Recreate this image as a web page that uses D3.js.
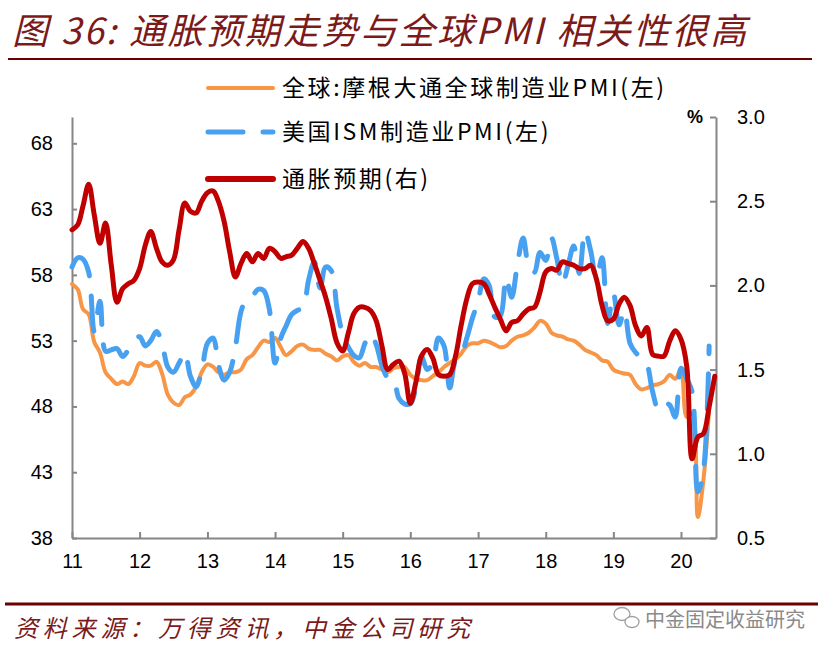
<!DOCTYPE html>
<html><head><meta charset="utf-8">
<script src="https://cdn.jsdelivr.net/npm/d3@7"></script>
<style>
body{margin:0;background:#fff;}
svg{display:block;}
</style></head>
<body>
<svg id="c" width="828" height="655"></svg>
<script>
// ---------- data ----------
const startMonth = new Date(2011, 0, 1);
const xTickLabels = ["11","12","13","14","15","16","17","18","19","20"];
const leftTicks = [38, 43, 48, 53, 58, 63, 68];
const rightTicks = [0.5, 1.0, 1.5, 2.0, 2.5, 3.0];
const seriesNames = ["全球:摩根大通全球制造业PMI(左)", "美国ISM制造业PMI(左)", "通胀预期(右)"];

// JPM global manufacturing PMI, monthly from Jan 2011
const globalPMI = [
  57.3,56.9,55.4,55.0,52.9,52.1,50.6,50.1,49.7,49.9,49.7,50.3,
  51.3,51.1,51.1,51.4,50.5,48.9,48.3,48.1,48.7,48.9,49.5,50.6,
  51.2,51.0,50.6,50.4,50.6,50.6,50.8,51.6,51.9,52.5,53.0,52.9,
  53.2,52.5,51.9,52.2,52.6,52.7,52.4,52.3,52.3,52.0,51.8,51.5,
  51.8,51.9,51.4,51.1,51.3,51.0,51.0,50.8,50.6,50.9,51.0,51.0,
  50.4,50.1,50.0,50.0,50.3,50.6,51.0,51.3,51.6,52.0,52.6,52.8,
  52.8,53.0,52.9,52.7,52.5,52.6,53.0,53.3,53.4,53.6,54.0,54.5,
  54.3,53.6,53.4,53.3,53.1,53.0,52.7,52.3,52.1,51.9,51.5,51.4,
  50.8,50.6,50.5,50.4,49.7,49.3,49.4,49.6,49.7,49.9,50.4,50.1,
  50.8,47.2,47.5,39.6,42.4,47.9
];
// US ISM manufacturing PMI, monthly from Jan 2011
const ismPMI = [
  58.6,59.3,59.2,58.2,53.7,56.0,52.2,52.3,52.4,51.8,52.3,53.0,
  53.3,52.6,53.0,53.7,52.8,51.0,50.6,51.3,52.1,50.3,49.5,50.7,
  52.8,53.2,51.2,50.0,50.6,52.5,55.2,56.2,56.4,56.9,56.8,55.4,
  51.3,53.2,54.1,55.0,55.3,55.5,57.6,59.0,57.0,58.6,58.3,55.5,
  53.5,52.5,51.9,51.7,52.8,53.5,52.7,51.1,50.2,50.1,48.6,48.2,
  48.2,49.5,51.8,50.8,51.3,53.2,52.6,49.4,51.5,51.9,53.2,54.7,
  56.0,57.7,57.2,54.8,54.9,57.8,56.3,58.8,60.8,58.7,58.2,59.7,
  59.1,60.8,59.3,57.3,58.7,60.2,58.1,61.3,59.8,57.7,59.3,54.3,
  56.6,54.2,55.3,52.8,52.1,51.7,51.2,49.1,47.8,48.3,48.1,47.2,
  50.9,50.1,49.1,41.5,43.1,52.6
];
// inflation expectation (%), monthly from Jan 2011
const inflExp = [
  2.33,2.36,2.47,2.60,2.42,2.25,2.37,2.12,1.90,1.98,2.01,2.03,
  2.10,2.24,2.32,2.22,2.14,2.12,2.15,2.33,2.49,2.44,2.43,2.50,
  2.55,2.56,2.50,2.38,2.20,2.05,2.13,2.19,2.14,2.19,2.16,2.22,
  2.20,2.16,2.17,2.18,2.22,2.26,2.22,2.13,2.03,1.93,1.80,1.66,
  1.61,1.72,1.83,1.87,1.87,1.85,1.79,1.64,1.50,1.53,1.55,1.48,
  1.30,1.43,1.58,1.62,1.57,1.47,1.46,1.47,1.58,1.76,1.92,2.01,
  2.02,2.01,1.95,1.87,1.80,1.73,1.78,1.79,1.83,1.86,1.87,1.96,
  2.08,2.10,2.09,2.14,2.13,2.12,2.10,2.10,2.12,2.04,1.88,1.79,
  1.80,1.89,1.93,1.88,1.76,1.70,1.75,1.59,1.58,1.58,1.67,1.73,
  1.68,1.52,0.97,1.10,1.12,1.28,1.46
];

// ---------- chart ----------
const svg = d3.select("#c");
const cjk = "'Noto Sans CJK SC','Noto Sans',sans-serif";
const lat = "'Liberation Sans',Arial,sans-serif";
const colors = ["#f79646", "#47a1f0", "#c00000"];

const monthDate = i => d3.timeMonth.offset(startMonth, i);
const x = d3.scaleTime().domain([startMonth, new Date(2020, 6, 8)]).range([72, 716]);
const yL = d3.scaleLinear().domain([38, 70]).range([538, 117]);
const yR = d3.scaleLinear().domain([0.5, 3.0]).range([538, 117]);

// title
svg.append("text").attr("x", 12).attr("y", 44)
  .attr("font-family", cjk).attr("font-size", 36).attr("font-style", "italic")
  .attr("letter-spacing", 2.5).attr("fill", "#7b1a1a")
  .text("图 36: 通胀预期走势与全球PMI 相关性很高");
svg.append("line").attr("x1", 8).attr("x2", 812).attr("y1", 59).attr("y2", 59)
  .attr("stroke", "#6b0000").attr("stroke-width", 2);

// axes
const axisStyle = g => {
  g.select(".domain").attr("stroke", "#868686").attr("stroke-width", 2);
  g.selectAll(".tick line").attr("stroke", "#868686").attr("stroke-width", 2);
  g.selectAll(".tick text").attr("font-family", lat).attr("font-size", 20).attr("fill", "#000");
};
svg.append("g").attr("transform", "translate(72,0)")
  .call(d3.axisLeft(yL).tickValues(leftTicks).tickSize(-5).tickSizeOuter(0).tickPadding(19))
  .call(axisStyle);
svg.append("g").attr("transform", "translate(716,0)")
  .call(d3.axisRight(yR).tickValues(rightTicks).tickFormat(d3.format(".1f")).tickSize(-6).tickSizeOuter(0).tickPadding(21))
  .call(axisStyle);
const yearDates = xTickLabels.map((_, i) => new Date(2011 + i, 0, 1));
svg.append("g").attr("transform", "translate(0,538)")
  .call(d3.axisBottom(x).tickValues(yearDates).tickFormat((d, i) => xTickLabels[i]).tickSize(-6).tickSizeOuter(0).tickPadding(16))
  .call(axisStyle);

svg.append("text").attr("x", 695).attr("y", 117).attr("dy", "0.35em")
  .attr("text-anchor", "middle").attr("font-family", lat).attr("font-size", 18).attr("font-weight", "bold")
  .text("%");

// lines
const curve = d3.curveCatmullRom.alpha(0.5);
const lineL = d3.line().x((d, i) => x(monthDate(i))).y(d => yL(d)).curve(curve);
const lineR = d3.line().x((d, i) => x(monthDate(i))).y(d => yR(d)).curve(curve);

svg.append("path").attr("d", lineL(globalPMI)).attr("fill", "none")
  .attr("stroke", colors[0]).attr("stroke-width", 4).attr("stroke-linejoin", "round").attr("stroke-linecap", "round");
svg.append("path").attr("d", lineL(ismPMI)).attr("fill", "none")
  .attr("stroke", colors[1]).attr("stroke-width", 5).attr("stroke-dasharray", "35,20")
  .attr("stroke-linejoin", "round").attr("stroke-linecap", "round");
svg.append("path").attr("d", lineR(inflExp)).attr("fill", "none")
  .attr("stroke", colors[2]).attr("stroke-width", 5).attr("stroke-linejoin", "round").attr("stroke-linecap", "round");

// legend
const legY = [88, 132, 179];
seriesNames.forEach((name, i) => {
  const l = svg.append("line").attr("x1", 208).attr("x2", 273).attr("y1", legY[i]).attr("y2", legY[i])
    .attr("stroke", colors[i]).attr("stroke-width", i === 0 ? 4 : (i === 2 ? 6 : 5)).attr("stroke-linecap", "round");
  if (i === 1) l.attr("stroke-dasharray", "35,20");
  svg.append("text").attr("x", 282).attr("y", legY[i]).attr("dy", "0.36em")
    .attr("font-family", cjk).attr("font-size", 23).attr("letter-spacing", 2.6).attr("fill", "#000")
    .text(name);
});

// footer
svg.append("line").attr("x1", 5).attr("x2", 818).attr("y1", 604).attr("y2", 604)
  .attr("stroke", "#6b0000").attr("stroke-width", 3);
svg.append("text").attr("x", 14).attr("y", 637)
  .attr("font-family", cjk).attr("font-size", 24).attr("font-style", "italic").attr("fill", "#7b1a1a")
  .attr("textLength", 456).attr("lengthAdjust", "spacing")
  .text("资料来源：万得资讯，中金公司研究");

// watermark
const wm = svg.append("g").attr("fill", "none").attr("stroke", "#a0a0a0").attr("stroke-width", 1.3);
wm.append("ellipse").attr("cx", 622).attr("cy", 614).attr("rx", 8).attr("ry", 6.5);
wm.append("ellipse").attr("cx", 632).attr("cy", 622).attr("rx", 7).attr("ry", 5.5).attr("fill", "#fff");
svg.append("text").attr("x", 645).attr("y", 627)
  .attr("font-family", cjk).attr("font-size", 20).attr("fill", "#8a8a8a")
  .text("中金固定收益研究");
</script>
</body></html>
